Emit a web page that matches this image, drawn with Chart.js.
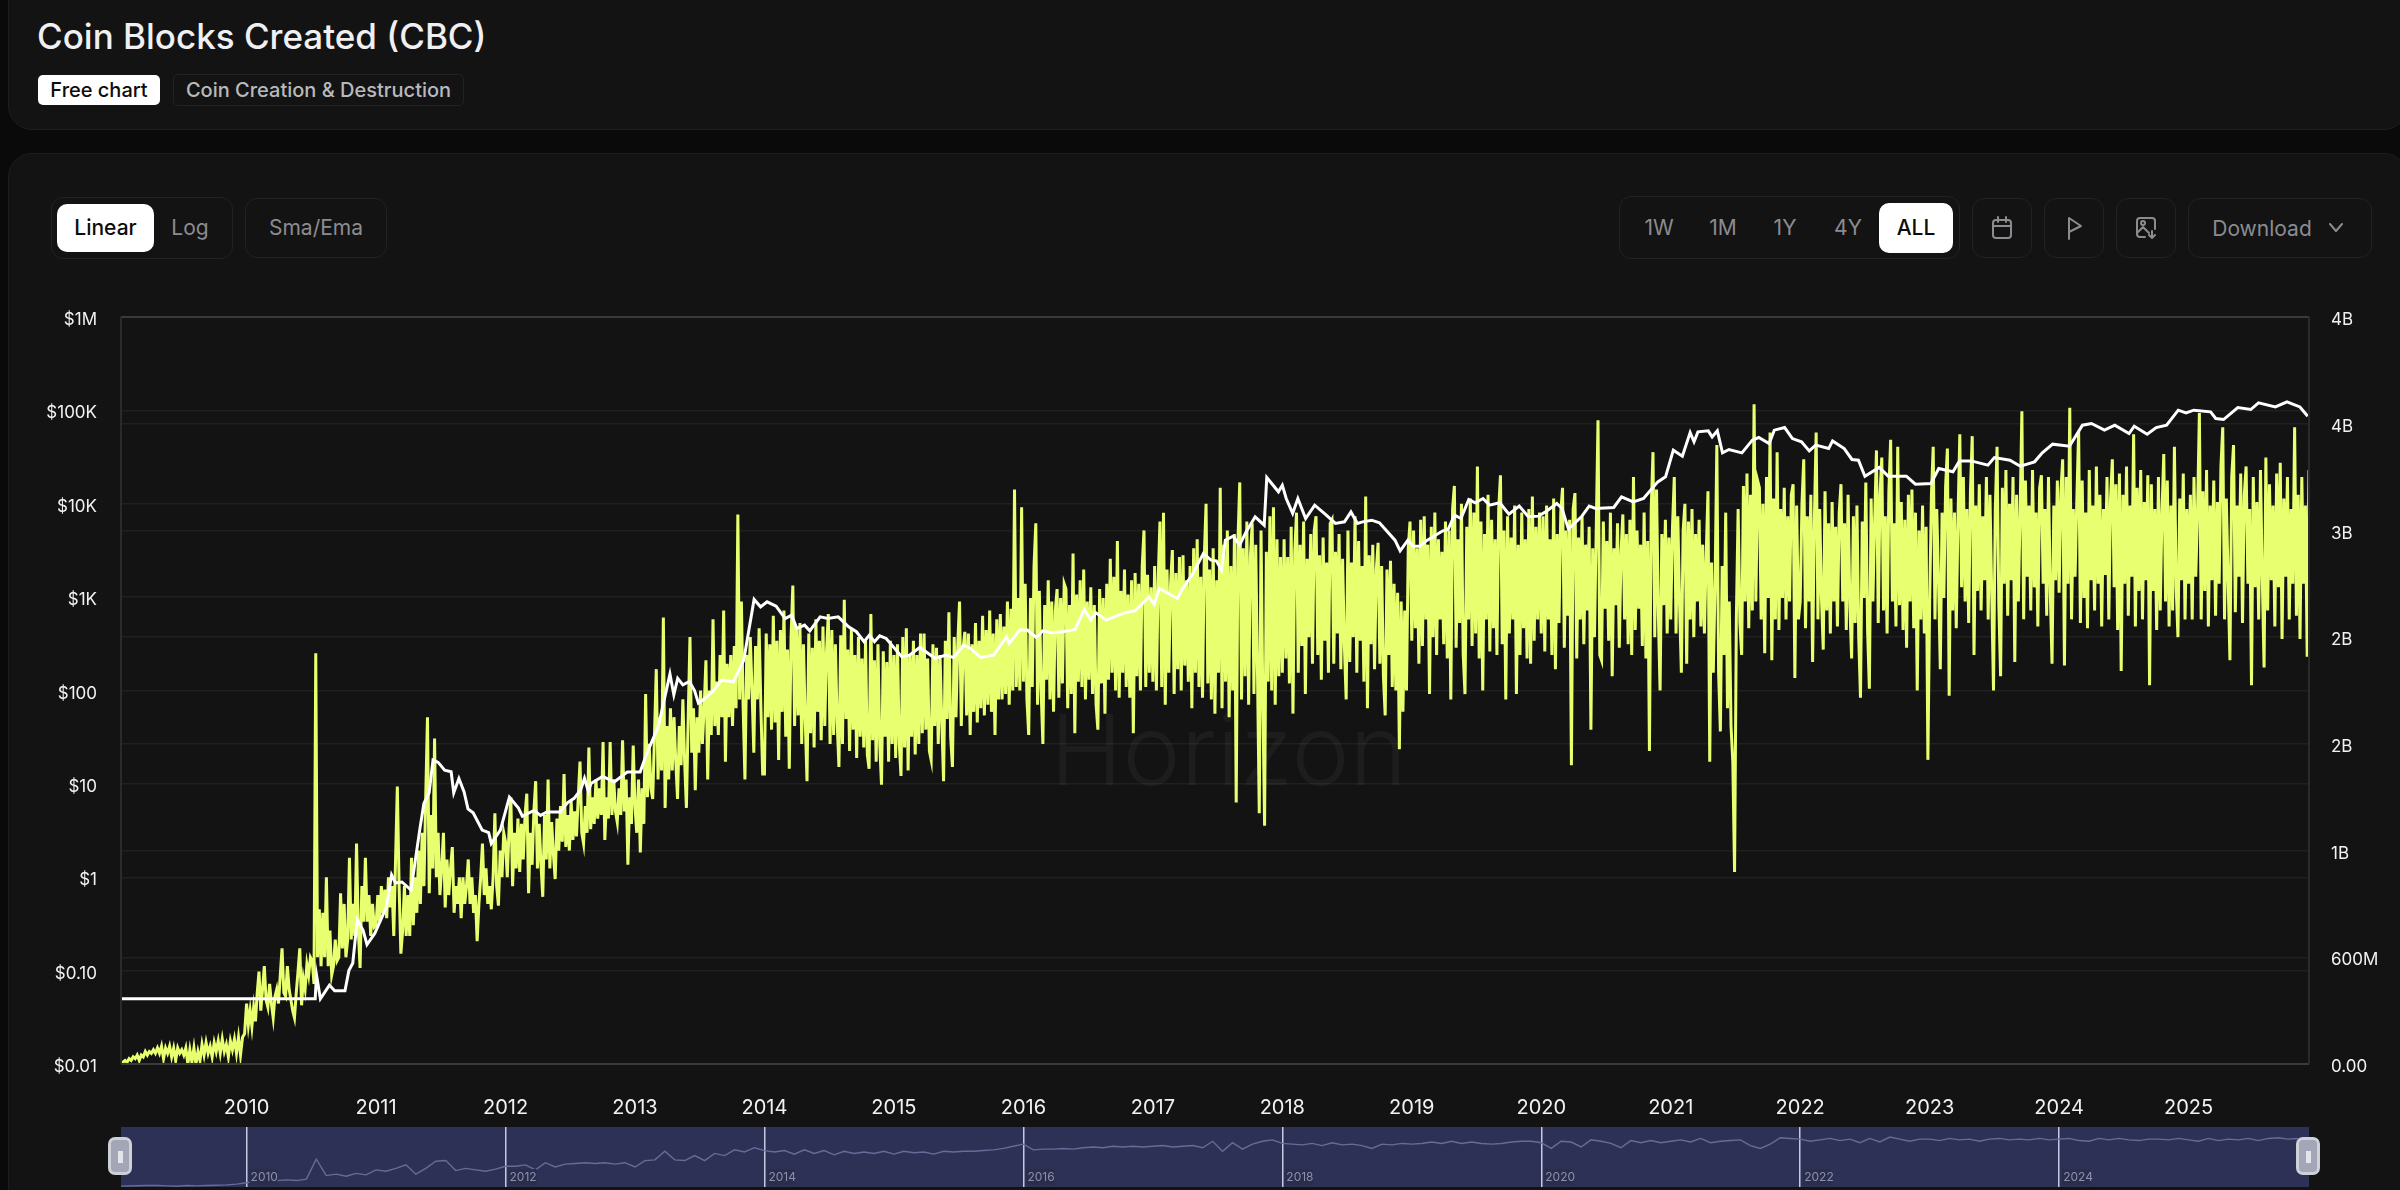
<!DOCTYPE html>
<html>
<head>
<meta charset="utf-8">
<title>Coin Blocks Created (CBC)</title>
<script src="https://cdn.jsdelivr.net/npm/chart.js@4/dist/chart.umd.min.js"></script>
<style>
html, body { margin: 0; padding: 0; width: 2400px; height: 1190px; overflow: hidden; background: #0a0a0a; font-family: Inter, "Noto Sans", sans-serif; }
.card { position: absolute; left: 8px; width: 2400px; background: #131313; border: 1px solid #1e1e1e; border-radius: 24px; box-sizing: border-box; }
.box { position: absolute; box-sizing: border-box; border: 1px solid #222; border-radius: 12px; }
.on { position: absolute; box-sizing: border-box; background: #fff; color: #0c0c0c; border-radius: 10px; text-align: center; font-weight: 500; }
.lbl { position: absolute; color: #8c8c90; font-size: 21px; font-weight: 400; transform: translateX(-50%); white-space: nowrap; }
svg { position: absolute; fill: none; stroke: #8c8c90; stroke-width: 2; stroke-linecap: round; stroke-linejoin: round; }
.handle { position: absolute; top: 1137px; width: 24px; height: 38px; box-sizing: border-box; background: #a2a6b6; border: 3px solid #cfd1d9; border-radius: 7px; }
.handle i { position: absolute; left: 7px; top: 11px; width: 5px; height: 12px; background: #e4e5ea; }
canvas { position: absolute; }
</style>
</head>
<body>
<div class="card" style="top:-24px;height:154px"></div>
<div class="card" style="top:153px;height:1100px"></div>

<div style="position:absolute;left:37px;top:14px;color:#f0f0f2;font-size:35px;font-weight:500;line-height:44px">Coin Blocks Created (CBC)</div>
<div class="on" style="left:38px;top:75px;width:122px;height:30px;line-height:30px;font-size:20px;border-radius:5px">Free chart</div>
<div class="box" style="left:173px;top:74px;width:291px;height:32px;border-radius:5px;color:#b9b9bc;font-size:20px;font-weight:500;line-height:30px;text-align:center">Coin Creation &amp; Destruction</div>

<div class="box" style="left:51px;top:197px;width:182px;height:62px"></div>
<div class="on" style="left:57px;top:204px;width:97px;height:48px;line-height:48px;font-size:21px">Linear</div>
<div class="lbl" style="left:190px;top:215px">Log</div>
<div class="box" style="left:245px;top:198px;width:142px;height:60px"></div>
<div class="lbl" style="left:316px;top:215px">Sma/Ema</div>

<div class="box" style="left:1619px;top:196px;width:341px;height:63px"></div>
<div class="lbl" style="left:1659px;top:215px">1W</div>
<div class="lbl" style="left:1723px;top:215px">1M</div>
<div class="lbl" style="left:1785px;top:215px">1Y</div>
<div class="lbl" style="left:1848px;top:215px">4Y</div>
<div class="on" style="left:1879px;top:203px;width:74px;height:50px;line-height:50px;font-size:21px">ALL</div>
<div class="box" style="left:1972px;top:198px;width:60px;height:60px"></div>
<svg style="left:1991px;top:216px" width="22" height="24" viewBox="0 0 22 24"><rect x="2" y="4" width="18" height="18" rx="3"/><path d="M2 10h18M7 1v5M15 1v5"/></svg>
<div class="box" style="left:2044px;top:198px;width:60px;height:60px"></div>
<svg style="left:2066px;top:216px" width="18" height="24" viewBox="0 0 18 24"><path d="M3 23V2L15 10L3 16"/></svg>
<div class="box" style="left:2116px;top:198px;width:60px;height:60px"></div>
<svg style="left:2135px;top:216px" width="22" height="24" viewBox="0 0 22 24"><path d="M10 21H5a3 3 0 0 1-3-3V5a3 3 0 0 1 3-3h12a3 3 0 0 1 3 3v8M2 17l6-6 6 6M17 15v7M14 19l3 3 3-3"/><circle cx="8" cy="7" r="2"/></svg>
<div class="box" style="left:2188px;top:198px;width:184px;height:60px"></div>
<div class="lbl" style="left:2262px;top:216px">Download</div>
<svg style="left:2327px;top:222px" width="18" height="12" viewBox="0 0 18 12"><path d="M3 2l6 7 6-7"/></svg>

<canvas id="mainChart" width="2400" height="1190" style="left:0;top:0"></canvas>
<div style="position:absolute;left:1050px;top:690px;color:rgba(255,255,255,0.045);font-size:98px;font-weight:300;pointer-events:none">Horizon</div>
<canvas id="rangeChart" width="2188" height="60" style="left:121px;top:1127px;background:#2e3156"></canvas>
<div class="handle" style="left:108px"><i></i></div>
<div class="handle" style="left:2296px"><i></i></div>

<script>
// Yellow series in billions (right axis), one list per calendar year
var yellow2009 = [0.00,0.01,0.02,0.01,0.03,0.02,0.04,0.03,0.05,0.02,0.05,0.04,0.07,0.05,0.07,0.06,0.08,0.06,0.09,0.06,0.10,0.03,0.09,0.06,0.10,0.04,0.09,0.02,0.09,0.06,0.08,0.05,0.09,0.00,0.08,0.01,0.09,0.00,0.07,0.02,0.11,0.05,0.12,0.06,0.10,0.04,0.12,0.07,0.13,0.06,0.14,0.07,0.11,0.04,0.13,0.08,0.14,0.06,0.15,0.05,0.15,0.17];
var yellow2010 = [0.34,0.22,0.30,0.21,0.32,0.24,0.40,0.52,0.30,0.42,0.55,0.36,0.32,0.45,0.34,0.26,0.38,0.42,0.34,0.50,0.65,0.40,0.38,0.55,0.42,0.36,0.30,0.26,0.40,0.52,0.65,0.33,0.48,0.42,0.56,0.50,0.60,0.58,0.45,2.31,0.60,0.87,0.55,0.85,0.60,1.05,0.55,0.75,0.50,0.55,0.70,0.58,0.60,0.96,0.65,0.90,0.60,0.70,1.16,0.70,0.90,0.72,1.24,0.75,0.54,1.00,0.80,1.16,0.80,0.95,0.72,0.90,0.77];
var yellow2011 = [0.78,0.95,0.80,1.00,0.85,0.98,0.82,1.05,0.88,1.00,0.72,1.15,1.56,1.00,0.62,0.75,1.00,0.72,0.95,0.72,1.16,0.78,1.05,0.85,1.20,0.90,1.30,1.00,1.50,1.95,0.96,1.40,1.10,1.83,1.05,1.30,0.95,1.10,1.30,0.88,1.15,0.95,1.10,1.22,0.85,1.00,0.90,1.05,0.82,1.05,0.90,1.00,1.15,0.90,1.05,0.85,0.95,0.69,0.90,1.05,1.24,0.95,1.10,0.90,1.00,0.87,1.05,1.41,1.00,0.89,1.20,1.05,1.30];
var yellow2012 = [1.25,1.05,1.32,1.50,1.00,1.30,1.10,1.38,1.08,1.35,1.15,1.40,1.52,0.96,1.30,1.12,1.42,1.59,1.10,1.35,1.12,0.94,1.40,1.15,1.60,1.10,1.36,1.18,1.04,1.38,1.20,1.45,1.25,1.63,1.22,1.40,1.20,1.48,1.26,1.42,1.28,1.50,1.70,1.30,1.24,1.45,1.30,1.78,1.32,1.50,1.35,1.60,1.38,1.55,1.40,1.81,1.26,1.50,1.38,1.81,1.40,1.60,1.42,1.36,1.55,1.40,1.82,1.42,1.60,1.12,1.50,1.35,1.79];
var yellow2013 = [1.45,1.30,1.60,1.19,1.55,1.35,2.08,1.50,1.80,1.55,1.49,1.85,2.22,1.60,1.95,1.65,2.51,1.44,1.90,1.60,2.00,1.65,1.95,1.70,1.49,1.90,1.68,2.05,1.70,1.44,1.95,2.40,1.75,2.00,1.54,1.95,1.75,2.10,1.80,2.00,2.27,1.60,2.10,1.85,2.50,1.90,2.15,1.85,2.30,1.95,2.55,1.70,2.25,1.95,2.30,1.90,2.35,2.00,3.09,2.05,2.60,2.00,1.60,2.30,2.05,2.40,2.10,1.75,2.35,2.05,2.45,2.00,1.63];
var yellow2014 = [1.63,2.42,1.95,2.36,1.88,2.52,1.92,2.38,1.71,2.44,1.98,2.55,1.84,2.33,1.66,2.40,2.69,1.90,2.46,1.96,2.48,1.80,2.36,1.93,1.59,2.42,1.86,2.34,1.78,2.50,1.98,2.38,1.82,2.46,1.90,2.32,2.53,1.80,2.44,1.85,2.36,1.92,1.67,2.41,1.80,2.61,1.94,2.33,1.76,2.45,1.88,2.30,1.72,2.40,1.84,2.28,1.78,2.38,1.74,1.66,2.53,1.82,2.27,1.70,2.36,1.80,1.57,2.32,1.84,2.26,1.70,2.38,1.80];
var yellow2015 = [2.30,1.72,2.36,1.80,1.62,2.40,1.78,2.45,1.65,2.30,1.84,2.38,1.74,2.30,1.80,2.42,1.86,2.42,1.88,2.28,1.76,1.71,2.36,1.90,2.34,1.80,2.30,1.92,1.59,2.38,1.94,2.54,1.84,1.67,2.40,1.95,2.36,2.60,1.90,2.34,2.43,1.96,2.42,1.85,2.36,1.98,2.48,1.92,2.38,2.00,2.52,1.96,2.44,2.02,2.55,1.98,2.42,1.85,2.50,2.05,2.53,2.05,2.46,2.08,2.60,2.02,2.56,2.10,3.23,2.12,2.62,2.10,3.13];
var yellow2016 = [2.15,2.70,2.05,1.85,2.62,2.12,2.80,3.04,2.02,2.66,2.10,1.80,2.58,2.16,2.72,2.05,2.60,1.98,2.55,2.67,2.06,2.62,2.14,2.70,2.67,2.00,2.58,2.08,2.87,1.86,2.64,2.15,2.72,2.12,2.78,2.05,2.60,2.16,2.68,2.08,2.58,2.02,1.88,2.67,2.14,2.62,1.97,2.70,2.16,2.84,2.20,2.74,2.10,2.94,2.06,2.66,2.20,2.78,2.12,2.64,2.06,2.72,1.86,2.76,2.18,2.70,2.10,2.80,3.00,2.12,2.75,2.20,2.68];
var yellow2017 = [2.15,2.80,2.10,2.72,3.05,2.12,3.10,2.02,2.78,2.20,2.70,2.89,2.08,2.76,2.22,2.85,2.10,2.86,2.24,2.72,2.15,2.80,2.00,2.90,2.20,2.95,2.12,2.74,2.06,2.85,3.15,2.14,2.78,2.05,2.90,1.97,2.72,2.20,3.24,2.00,2.92,2.15,3.00,1.95,2.80,2.10,2.98,1.47,2.95,3.27,2.05,2.90,2.18,3.05,2.02,2.85,3.04,2.08,2.92,2.20,1.41,3.00,2.05,1.34,2.88,2.15,3.08,2.10,3.13,2.02,2.95,2.18,2.85];
var yellow2018 = [2.20,2.95,2.28,2.85,2.14,3.02,1.97,2.88,3.10,2.20,2.92,2.35,3.05,2.08,2.84,2.40,2.98,2.25,3.00,3.08,2.30,2.86,2.16,2.96,2.38,2.82,2.20,3.04,3.06,2.25,2.88,2.42,2.98,2.22,2.84,2.35,2.05,3.00,2.26,2.82,2.40,3.08,2.20,2.94,2.38,2.80,2.15,3.19,2.00,2.86,2.36,2.92,2.22,2.78,2.93,2.25,2.80,2.18,1.96,2.78,2.30,2.83,2.12,2.70,2.10,2.65,1.77,2.60,1.98,2.55,2.10,2.90,3.05];
var yellow2019 = [2.38,3.00,2.45,2.90,2.25,3.06,2.35,3.08,2.50,2.92,2.08,3.02,2.40,3.10,2.30,2.95,2.50,2.88,2.36,3.05,2.28,3.00,2.05,3.12,3.25,2.34,2.95,2.48,3.15,2.30,2.08,3.02,2.50,3.18,2.35,3.10,2.42,3.36,2.28,3.05,2.10,2.98,2.50,3.20,2.32,3.06,2.45,2.95,2.30,3.12,3.31,2.36,3.00,2.05,3.08,2.42,2.96,2.50,3.14,2.08,2.92,2.30,3.10,2.45,2.95,2.28,3.12,2.25,3.19,2.38,3.02,2.50,3.10];
var yellow2020 = [2.42,3.08,2.32,3.14,2.50,2.95,2.30,3.18,2.22,2.98,2.48,3.10,3.24,2.34,3.00,2.52,3.06,1.68,3.12,3.21,2.28,2.96,2.50,3.08,2.36,2.92,2.55,3.02,1.88,2.90,2.40,3.00,3.62,2.30,2.27,3.05,2.56,2.94,2.38,3.10,2.18,2.90,2.58,3.04,2.34,2.88,3.09,2.50,2.98,2.36,3.06,2.30,3.30,2.44,3.00,2.56,2.92,2.35,3.10,2.28,2.94,1.76,3.12,3.44,2.40,3.23,2.54,2.10,2.98,2.58,3.06,2.42,2.96];
var yellow2021 = [2.50,3.02,3.30,2.42,3.08,2.58,2.20,3.00,3.15,2.25,3.05,2.50,3.12,2.40,2.98,2.60,3.06,2.46,2.92,2.42,2.86,3.22,1.70,2.82,2.20,2.70,3.48,2.20,1.87,2.80,2.30,3.10,2.00,2.60,1.90,1.70,1.08,2.50,3.12,2.48,2.30,3.25,2.60,3.32,2.45,3.20,2.55,3.71,2.60,3.28,3.24,2.50,3.15,2.31,3.30,2.62,3.55,2.27,3.18,2.50,3.44,2.44,3.12,2.62,3.24,2.50,3.08,2.60,3.20,3.26,2.17,3.14,2.50];
var yellow2022 = [2.60,3.15,3.40,2.45,3.08,2.60,3.20,2.26,3.06,3.55,2.50,3.12,2.62,2.33,3.22,2.55,3.04,2.42,3.16,2.60,3.02,2.46,3.10,3.26,2.60,3.04,2.44,3.20,2.58,2.28,3.08,2.48,3.14,2.40,2.06,3.05,2.62,3.27,2.44,2.11,3.18,2.60,3.06,3.45,2.48,3.20,3.41,2.55,3.08,2.42,3.22,3.51,2.60,3.04,2.46,3.47,2.58,3.16,2.44,3.06,2.34,3.20,2.60,3.23,2.45,3.10,2.10,3.00,2.50,3.14,2.42,3.02,1.71];
var yellow2023 = [2.60,3.20,3.47,2.50,3.12,2.72,2.22,3.10,2.62,3.25,3.46,2.07,3.18,2.55,3.10,2.45,3.08,3.54,2.68,3.30,2.60,3.12,2.48,3.22,3.53,2.30,3.14,2.66,3.26,2.55,3.08,2.72,3.30,2.50,3.20,2.64,2.10,3.12,3.47,2.58,2.18,3.24,2.70,3.34,2.52,3.15,2.72,3.30,2.26,3.20,2.60,3.10,3.67,2.50,3.28,2.74,3.14,2.55,3.34,2.68,3.10,2.46,3.24,3.31,2.70,3.12,2.52,3.30,2.66,2.25,3.14,2.72,3.28];
var yellow2024 = [2.65,3.22,3.40,2.24,3.30,2.70,3.69,2.50,3.12,2.74,3.18,3.56,2.48,3.28,2.62,3.10,2.45,3.34,2.72,3.14,2.55,3.36,2.70,3.20,2.46,3.12,2.75,3.30,2.50,3.18,3.40,2.68,3.26,2.44,3.32,2.21,3.20,2.70,3.36,2.52,3.14,2.74,3.54,2.46,3.24,2.66,3.34,2.50,3.16,2.72,3.31,2.13,3.26,2.66,3.12,2.44,3.30,2.55,3.10,3.43,2.60,3.28,2.46,3.14,2.55,3.47,2.68,2.40,3.18,2.72,3.32,2.50,3.12];
var yellow2025 = [2.70,3.20,2.50,3.30,2.74,3.12,3.66,2.50,3.22,2.66,3.34,2.46,3.14,2.72,3.28,2.52,3.16,2.70,3.36,3.58,2.50,3.18,2.72,2.27,3.30,3.48,2.54,3.14,2.74,3.32,2.48,3.20,3.36,2.70,3.12,2.13,3.30,2.68,3.16,2.50,3.34,2.74,2.23,3.41,2.55,3.26,2.72,3.14,2.46,3.32,2.68,3.38,2.39,3.18,2.74,3.30,2.50,3.12,2.70,3.58,2.52,3.20,2.39,3.30,2.70,3.14,2.29,3.34];
var yellowByYear = [yellow2009, yellow2010, yellow2011, yellow2012, yellow2013, yellow2014, yellow2015, yellow2016, yellow2017, yellow2018, yellow2019, yellow2020, yellow2021, yellow2022, yellow2023, yellow2024, yellow2025];

// White series: decimal year + USD price (left axis, log)
var whiteYears = [2009.03,2010.53,2010.54,2010.57,2010.64,2010.68,2010.76,2010.79,2010.82,2010.855,2010.90,2010.93,2010.99,2011.08,2011.12,2011.15,2011.20,2011.27,2011.34,2011.37,2011.41,2011.44,2011.48,2011.53,2011.58,2011.60,2011.64,2011.68,2011.71,2011.75,2011.82,2011.87,2011.89,2011.96,2012.03,2012.10,2012.13,2012.22,2012.27,2012.32,2012.42,2012.48,2012.53,2012.58,2012.61,2012.64,2012.66,2012.75,2012.84,2012.94,2013.04,2013.09,2013.18,2013.22,2013.27,2013.30,2013.33,2013.37,2013.42,2013.46,2013.49,
    2013.51,2013.60,2013.67,2013.76,2013.84,2013.92,2013.97,2014.02,2014.09,2014.16,2014.21,2014.25,2014.31,2014.35,2014.43,2014.49,2014.57,2014.65,2014.71,2014.77,2014.81,2014.85,2014.89,2014.94,2015.06,2015.12,2015.20,2015.32,2015.40,2015.46,2015.54,2015.59,2015.67,2015.77,2015.87,2015.89,2015.97,2016.03,2016.10,2016.15,2016.22,2016.30,2016.40,2016.47,2016.52,2016.56,2016.64,2016.78,2016.86,2016.97,2017.01,2017.05,2017.19,2017.23,2017.31,2017.39,2017.45,2017.49,2017.53,2017.56,2017.62,2017.67,2017.72,2017.79,2017.86,2017.88,2017.97,2018.00,2018.03,2018.08,2018.12,2018.18,2018.25,2018.34,2018.41,2018.48,2018.53,2018.58,2018.62,2018.69,2018.75,2018.87,2018.91,2018.97,2019.01,2019.06,2019.12,2019.24,2019.28,2019.33,2019.38,2019.44,2019.49,2019.55,2019.60,
    2019.68,2019.75,2019.83,2019.90,2019.98,2020.04,2020.12,2020.16,2020.21,2020.31,2020.37,2020.42,2020.56,2020.62,2020.71,2020.79,2020.90,2020.96,2021.02,2021.09,2021.15,2021.18,2021.21,2021.29,2021.32,2021.36,2021.40,2021.45,2021.55,2021.63,2021.68,2021.76,2021.80,2021.88,2021.94,2022.01,2022.07,2022.12,2022.22,2022.25,2022.34,2022.40,2022.45,2022.50,2022.61,2022.68,2022.82,2022.89,2023.01,2023.07,2023.18,2023.23,2023.32,2023.45,2023.50,2023.62,2023.70,2023.81,2023.87,2023.95,2024.08,2024.18,2024.25,2024.35,2024.43,2024.54,2024.58,2024.68,2024.75,2024.83,2024.92,2024.98,2025.04,2025.17,2025.21,2025.27,2025.38,2025.48,2025.54,2025.67,2025.76,2025.86,2025.92];
var whitePrices = [0.05,0.05,0.09,0.05,0.07,0.061,0.061,0.10,0.12,0.35,0.27,0.19,0.25,0.48,1.06,0.87,0.89,0.73,3.4,6.2,8.0,18,17,14,13.5,8,11.4,8.2,5.4,4.9,3.2,3,2.3,3.2,7.2,5.5,4.5,5.2,4.6,5,5,6.3,7,8.6,11.5,8.3,10.1,12,10.5,13.4,13.4,21,41,73,150,90,135,115,125,100,73,
    76,97,129,124,211,944,787,891,800,590,641,461,501,436,615,590,615,481,426,333,392,333,385,361,230,239,289,220,239,226,306,282,226,239,376,319,444,444,370,436,415,426,451,738,567,679,567,679,713,1007,841,1239,968,1239,1791,2931,2489,2449,1945,4074,4498,3606,5000,7244,5902,19100,13430,15800,11380,7870,11380,6950,9660,7550,6150,6400,8180,6150,6400,6670,6250,4074,3133,4074,3516,3516,4074,5130,5300,7550,6950,11090,10230,11380,9660,
    10240,7730,9430,7250,7370,8320,10080,8900,5350,7250,9430,8900,9120,11860,10480,11390,17150,19420,37500,32300,57980,46050,58900,60400,52000,60400,35100,38100,35100,47970,51200,44200,61400,65500,49900,46050,36800,42400,39000,47100,39000,29800,29250,19730,24450,19730,19730,16200,16500,23830,21980,28780,28780,25900,31270,29250,25250,28120,35100,43480,41300,69400,72300,61400,69400,56500,67700,55600,65500,69400,100500,94000,100500,96400,81900,79800,107200,102100,120300,108900,123300,108900,86700];

// Range strip line, same units as the right axis, 13 readings a year
var overviewValues = [
    0.05,0.07,0.09,0.10,0.10,0.08,0.05,0.10,0.08,0.10,0.12,0.15,0.20,
    0.30,0.40,0.35,0.45,0.50,0.45,0.55,1.95,0.80,0.90,0.75,0.95,0.85,
    1.20,1.10,1.30,1.55,0.90,1.30,1.80,1.85,1.15,1.30,1.20,1.10,1.25,
    1.45,1.45,1.55,1.20,1.70,1.40,1.60,1.65,1.70,1.65,1.70,1.60,1.70,
    1.40,1.85,1.90,2.50,1.90,1.85,2.20,1.85,2.35,2.20,2.60,2.45,2.75,
    2.55,2.45,2.55,2.30,2.60,2.35,2.55,2.25,2.50,2.35,2.45,2.35,2.50,
    2.30,2.50,2.40,2.45,2.30,2.50,2.45,2.50,2.50,2.55,2.60,2.70,2.85,
    3.00,2.60,2.65,2.65,2.70,2.65,2.75,2.80,2.75,2.85,2.80,2.85,2.80,
    2.85,2.90,2.80,2.85,2.90,2.75,3.20,2.50,3.10,2.65,3.00,3.20,3.30,
    3.05,3.00,2.95,3.05,2.90,3.10,2.95,3.00,2.90,2.70,3.00,2.95,3.05,
    3.00,3.05,3.15,3.05,3.20,3.05,3.15,3.05,3.00,3.05,3.15,3.20,3.20,
    3.10,2.70,3.20,3.15,2.80,3.30,3.20,3.05,2.75,3.25,3.10,3.25,3.10,
    3.20,3.30,3.15,3.40,3.10,3.20,3.25,3.30,2.90,2.70,3.00,3.45,3.40,
    3.35,3.20,3.30,3.40,3.25,3.35,3.10,3.40,3.15,3.50,3.35,3.20,3.35,
    3.35,3.25,3.40,3.30,3.35,3.20,3.35,3.40,3.30,3.35,3.30,3.40,3.30,
    3.35,3.40,3.25,3.20,3.40,3.30,3.40,3.30,3.25,3.35,3.35,3.30,3.40,
    3.30,3.20,3.40,3.25,3.35,3.30,3.40,3.25,3.40,3.45,3.35,3.40];

var yearTicks = [2010,2011,2012,2013,2014,2015,2016,2017,2018,2019,2020,2021,2022,2023,2024,2025];
var rangeTicks = [2010,2012,2014,2016,2018,2020,2022,2024];
var priceTicks = [0.01,0.1,1,10,100,1000,10000,100000,1000000];
var priceLabels = ['$0.01','$0.10','$1','$10','$100','$1K','$10K','$100K','$1M'];
var rightTicks = [0,0.6,1.2,1.8,2.4,3.0,3.6,4.2];
var rightLabels = ['0.00','600M','1B','2B','2B','3B','4B','4B'];

var FIRST_YEAR = 2009.03;
var LAST_YEAR = 2025.93;

Chart.defaults.font.family = 'Inter';
Chart.defaults.animation = false;

function yellowPoints() {
    var pts = [];
    yellowByYear.forEach(function (list, k) {
        var from = k === 0 ? FIRST_YEAR : 2009 + k;
        var to = k === yellowByYear.length - 1 ? LAST_YEAR : 2010 + k;
        list.forEach(function (v, i) {
            pts.push({ x: from + (to - from) * i / (k === yellowByYear.length - 1 ? list.length - 1 : list.length), y: v });
        });
    });
    return pts;
}

function whitePoints() {
    return whiteYears.map(function (yr, i) { return { x: yr, y: whitePrices[i] }; });
}

function overviewPoints() {
    return overviewValues.map(function (v, i) {
        return { x: 2009 + i / 13, y: v };
    });
}

// Frame round the plot: brighter top and bottom, dim sides
var plotFrame = {
    id: 'plotFrame',
    afterDatasetsDraw: function (chart) {
        var a = chart.chartArea, c = chart.ctx;
        c.save();
        c.lineWidth = 2;
        c.strokeStyle = '#3a3a3a';
        c.beginPath();
        c.moveTo(a.left, a.top); c.lineTo(a.right, a.top);
        c.moveTo(a.left, a.bottom); c.lineTo(a.right, a.bottom);
        c.stroke();
        c.strokeStyle = '#2a2a2a';
        c.beginPath();
        c.moveTo(a.left, a.top); c.lineTo(a.left, a.bottom);
        c.moveTo(a.right, a.top); c.lineTo(a.right, a.bottom);
        c.stroke();
        c.restore();
    }
};

new Chart(document.getElementById('mainChart'), {
    type: 'line',
    plugins: [plotFrame],
    data: {
        datasets: [
            { label: 'BTC Price', data: whitePoints(), yAxisID: 'yPrice', borderColor: '#ffffff', borderWidth: 3, pointRadius: 0, tension: 0, order: 1 },
            { label: 'Coin Blocks Created', data: yellowPoints(), yAxisID: 'yCbc', borderColor: '#e8ff70', borderWidth: 3, pointRadius: 0, tension: 0, order: 2 }
        ]
    },
    options: {
        responsive: false,
        devicePixelRatio: 1,
        parsing: false,
        normalized: true,
        layout: { padding: { top: 317, left: 0, right: 0, bottom: 0 } },
        plugins: { legend: { display: false }, tooltip: { enabled: false } },
        scales: {
            x: {
                type: 'linear',
                min: FIRST_YEAR,
                max: LAST_YEAR,
                afterBuildTicks: function (axis) {
                    axis.ticks = yearTicks.map(function (v) { return { value: v }; });
                },
                afterFit: function (axis) { axis.height = 126; },
                grid: { display: false },
                border: { display: false },
                ticks: {
                    color: '#f2f2f2',
                    font: { size: 20 },
                    padding: 24,
                    maxRotation: 0,
                    autoSkip: false,
                    callback: function (value) { return String(value); }
                }
            },
            yPrice: {
                type: 'logarithmic',
                position: 'left',
                min: 0.01,
                max: 1000000,
                afterBuildTicks: function (axis) {
                    axis.ticks = priceTicks.map(function (v) { return { value: v }; });
                },
                afterFit: function (axis) { axis.width = 121; },
                grid: { color: '#202020', lineWidth: 1.5, drawTicks: false },
                border: { display: false },
                ticks: {
                    color: '#f2f2f2',
                    font: { size: 17 },
                    padding: 24,
                    labelOffset: 3,
                    autoSkip: false,
                    callback: function (value) { return priceLabels[priceTicks.indexOf(value)]; }
                }
            },
            yCbc: {
                type: 'linear',
                position: 'right',
                min: 0,
                max: 4.2,
                afterBuildTicks: function (axis) {
                    axis.ticks = rightTicks.map(function (v) { return { value: v }; });
                },
                afterFit: function (axis) { axis.width = 91; },
                grid: { color: '#202020', lineWidth: 1.5, drawTicks: false },
                border: { display: false },
                ticks: {
                    color: '#f2f2f2',
                    font: { size: 17 },
                    padding: 22,
                    labelOffset: 3,
                    autoSkip: false,
                    callback: function (value) { return rightLabels[rightTicks.indexOf(value)]; }
                }
            }
        }
    }
});

// Year captions next to the lines of the range strip
var rangeCaptions = {
    id: 'rangeCaptions',
    afterDatasetsDraw: function (chart) {
        var c = chart.ctx, sx = chart.scales.x;
        c.save();
        c.font = '12px Inter';
        c.textBaseline = 'middle';
        rangeTicks.forEach(function (yr) {
            var px = sx.getPixelForValue(yr);
            c.fillStyle = '#2a2d4c';
            c.fillRect(px + 3, 42, 28, 16);
            c.fillStyle = '#8d90ad';
            c.fillText(String(yr), px + 4, 50);
        });
        c.restore();
    }
};

new Chart(document.getElementById('rangeChart'), {
    type: 'line',
    plugins: [rangeCaptions],
    data: {
        datasets: [{ label: 'range', data: overviewPoints(), borderColor: '#666b98', borderWidth: 1.4, pointRadius: 0, tension: 0 }]
    },
    options: {
        responsive: false,
        devicePixelRatio: 1,
        parsing: false,
        plugins: { legend: { display: false }, tooltip: { enabled: false } },
        scales: {
            x: {
                type: 'linear',
                min: FIRST_YEAR,
                max: LAST_YEAR,
                afterBuildTicks: function (axis) {
                    axis.ticks = rangeTicks.map(function (v) { return { value: v }; });
                },
                afterFit: function (axis) { axis.height = 0; },
                grid: { color: '#c6c9e4', lineWidth: 1.5, drawTicks: false },
                border: { display: false },
                ticks: { display: false }
            },
            y: { display: false, min: 0, max: 4.2 }
        }
    }
});
</script>
</body>
</html>
